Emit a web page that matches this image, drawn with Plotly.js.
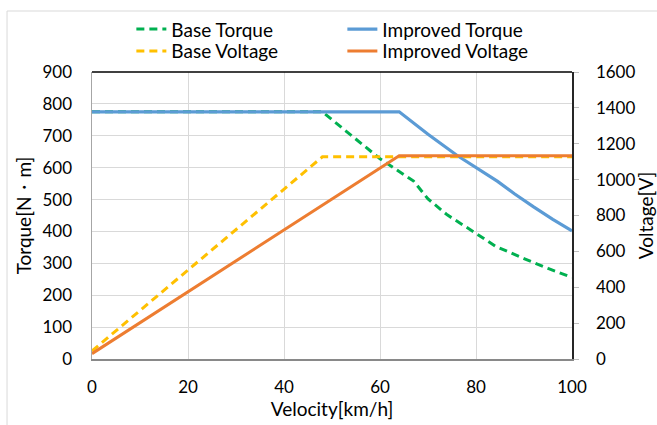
<!DOCTYPE html>
<html>
<head>
<meta charset="utf-8">
<script src="https://cdn.plot.ly/plotly-3.0.1.min.js"></script>
<style>html,body{margin:0;padding:0;background:#fff;}#chart{width:657px;height:425px;}</style>
</head>
<body>
<div id="chart"></div>
<script>
// Velocity [km/h] and torque [N·m]
const baseTorqueX = [0, 48, 60, 67, 70, 74, 80, 84, 90, 95, 100];
const baseTorqueY = [775, 775, 628, 558, 502, 452, 394, 354, 315, 284, 256];
const improvedTorqueX = [0, 64, 70, 76, 84.5, 88, 92, 96, 100];
const improvedTorqueY = [775, 775, 705, 639, 557, 518, 477, 438, 402];
// Velocity [km/h] and voltage [V]
const baseVoltageX = [0, 48, 100];
const baseVoltageY = [45, 1127, 1127];
const improvedVoltageX = [0, 64, 100];
const improvedVoltageY = [30, 1133, 1133];

const FONT = 'Lato, "Open Sans", sans-serif';
const traces = [
  {x: baseTorqueX, y: baseTorqueY, name: 'Base Torque', mode: 'lines', yaxis: 'y', legend: 'legend',
   line: {color: '#00b050', width: 3, dash: '8px,5px'}},
  {x: improvedTorqueX, y: improvedTorqueY, name: 'Improved Torque', mode: 'lines', yaxis: 'y', legend: 'legend',
   line: {color: '#5b9bd5', width: 3.2}},
  {x: baseVoltageX, y: baseVoltageY, name: 'Base Voltage', mode: 'lines', yaxis: 'y2', legend: 'legend2',
   line: {color: '#ffc000', width: 3, dash: '8px,5px'}},
  {x: improvedVoltageX, y: improvedVoltageY, name: 'Improved Voltage', mode: 'lines', yaxis: 'y2', legend: 'legend2',
   line: {color: '#ed7d31', width: 3}}
];

const legendCommon = {orientation: 'h', xanchor: 'left', yanchor: 'middle', x: 0.082,
  font: {family: FONT, size: 19, color: '#000'}, entrywidth: 166, entrywidthmode: 'pixels',
  bgcolor: 'rgba(0,0,0,0)', traceorder: 'normal', itemwidth: 30, tracegroupgap: 0};

const layout = {
  width: 657, height: 425,
  margin: {l: 92, r: 85, t: 72, b: 66, autoexpand: false},
  paper_bgcolor: '#fff', plot_bgcolor: '#fff',
  font: {family: FONT, size: 17, color: '#000'},
  showlegend: true,
  legend: Object.assign({}, legendCommon, {y: 1.149}),
  legend2: Object.assign({}, legendCommon, {y: 1.073}),
  xaxis: {range: [0, 100], dtick: 20, tick0: 0, showgrid: true, gridcolor: '#d9d9d9', gridwidth: 1,
    showline: true, linecolor: '#898989', linewidth: 1.5, ticks: '', zeroline: false, automargin: false,
    ticklabelstandoff: 12, tickfont: {family: FONT, size: 17},
    title: {text: 'Velocity[km/h]', font: {family: FONT, size: 19}, standoff: 6}},
  yaxis: {range: [0, 900], dtick: 100, tick0: 0, showgrid: true, gridcolor: '#d9d9d9', gridwidth: 1,
    showline: true, linecolor: '#a6a6a6', linewidth: 1.5, ticks: '', zeroline: false, automargin: false,
    ticklabelstandoff: 15, tickfont: {family: FONT, size: 17},
    title: {text: 'Torque[N・m]', font: {family: FONT, size: 19}, standoff: 6}},
  yaxis2: {range: [0, 1600], dtick: 200, tick0: 0, overlaying: 'y', side: 'right', showgrid: false,
    showline: true, linecolor: '#262626', linewidth: 1.5, ticks: 'outside', ticklen: 5, tickcolor: '#bfbfbf',
    zeroline: false, automargin: false, ticklabelstandoff: 14, tickfont: {family: FONT, size: 17},
    title: {text: 'Voltage[V]', font: {family: FONT, size: 19}, standoff: 12}},
  shapes: [
    {type: 'line', xref: 'paper', yref: 'paper', x0: 0, x1: 1, y0: 1, y1: 1,
     line: {color: '#000', width: 1.5}},
    {type: 'rect', xref: 'paper', yref: 'paper', x0: -0.177, x1: 1.2, y0: -0.3, y1: 1.2125,
     line: {color: '#d9d9d9', width: 1}, fillcolor: 'rgba(0,0,0,0)', layer: 'below'}
  ]
};

Plotly.newPlot('chart', traces, layout, {displayModeBar: false, staticPlot: true});
</script>
</body>
</html>
